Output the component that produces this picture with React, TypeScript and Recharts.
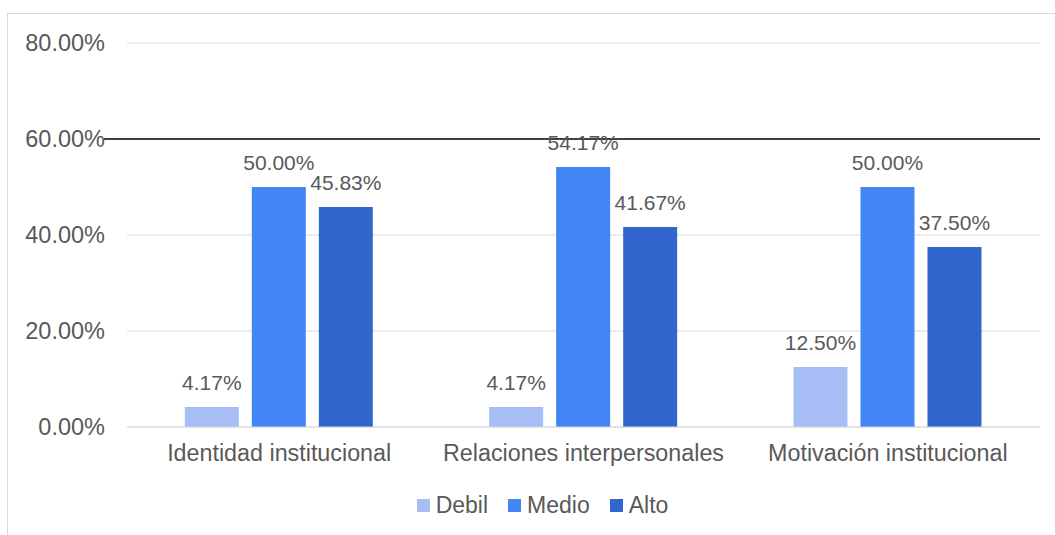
import React from 'react';
import { BarChart, Bar, XAxis, YAxis, CartesianGrid, Legend, LabelList, ReferenceLine } from 'recharts';

const categories = ['Identidad institucional', 'Relaciones interpersonales', 'Motivación institucional'];
const debil = [4.17, 4.17, 12.5];
const medio = [50.0, 54.17, 50.0];
const alto = [45.83, 41.67, 37.5];
const yTicks = [0, 20, 40, 60, 80];

const series = [
  { key: 'Debil', color: '#a7bdf5' },
  { key: 'Medio', color: '#4285f4' },
  { key: 'Alto', color: '#3366cc' },
];

const data = categories.map((name, i) => ({
  name,
  Debil: debil[i],
  Medio: medio[i],
  Alto: alto[i],
}));

const FONT = '"Liberation Sans", Arial, sans-serif';
const TEXT = '#595959';

const pct = (v: number) => `${Number(v).toFixed(2)}%`;

const renderLegend = () => (
  <div style={{ display: 'flex', justifyContent: 'center', fontFamily: FONT, fontSize: 23, color: TEXT, lineHeight: '26px' }}>
    {series.map((s) => (
      <div key={s.key} style={{ display: 'flex', alignItems: 'center', marginRight: 20 }}>
        <span style={{ display: 'inline-block', width: 13, height: 13, background: s.color, marginRight: 6 }} />
        <span>{s.key}</span>
      </div>
    ))}
  </div>
);

// dark line at 60% reaches a bit past the plot's left edge
const darkLine = (p: any) => (
  <line x1={p.x1 - 23} y1={p.y1} x2={p.x2} y2={p.y2} stroke="#404040" strokeWidth={2} />
);

export default function App() {
  return (
    <div style={{ position: 'absolute', left: 0, top: 0, width: 1055, height: 535, background: '#fff', overflow: 'hidden' }}>
      <div style={{ position: 'absolute', left: 7, top: 13, width: 1100, height: 600, border: '1px solid #d9d9d9' }} />
      <div style={{ position: 'absolute', left: 0, top: 0 }}>
        <BarChart
          width={1055}
          height={535}
          data={data}
          margin={{ top: 43, right: 15, left: 0, bottom: 48 }}
          barCategoryGap="19%"
          barGap={13}
        >
          <CartesianGrid vertical={false} stroke="#d9d9d9" />
          <XAxis
            dataKey="name"
            height={60}
            axisLine={{ stroke: '#d9d9d9' }}
            tickLine={false}
            tickSize={0}
            tickMargin={17}
            tick={{ fill: TEXT, fontSize: 23.3, fontFamily: FONT }}
            interval={0}
          />
          <YAxis
            width={127}
            domain={[0, 80]}
            ticks={yTicks}
            axisLine={false}
            tickLine={false}
            tickSize={0}
            tickMargin={22}
            tickFormatter={pct}
            tick={{ fill: TEXT, fontSize: 23.5, fontFamily: FONT }}
          />
          {series.map((s) => (
            <Bar key={s.key} dataKey={s.key} fill={s.color} isAnimationActive={false}>
              <LabelList
                dataKey={s.key}
                position="top"
                offset={17}
                formatter={(v: any) => pct(v)}
                style={{ fill: TEXT, fontSize: 21, fontFamily: FONT }}
              />
            </Bar>
          ))}
          <ReferenceLine y={60} shape={darkLine} />
          <Legend
            layout="horizontal"
            verticalAlign="middle"
            align="center"
            content={renderLegend}
            wrapperStyle={{ top: 492, left: 25, width: 1055 }}
          />
        </BarChart>
      </div>
    </div>
  );
}
